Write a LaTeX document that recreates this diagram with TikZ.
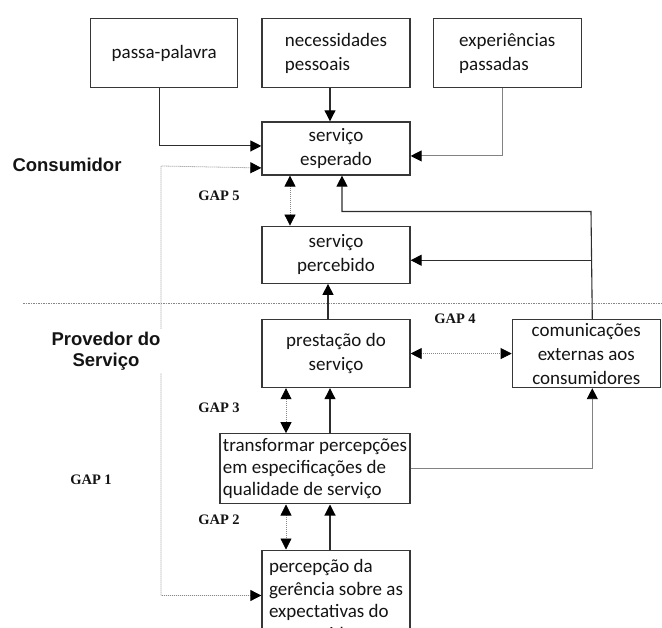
\documentclass[tikz,border=0pt]{standalone}
\usepackage{fontspec}
\setmainfont{Carlito}
\newfontfamily\sidefont{Liberation Sans}
\newfontfamily\gapfont{Liberation Serif}
\usetikzlibrary{arrows.meta,positioning}
\definecolor{boxbdr}{RGB}{55,55,55}
\definecolor{hdrclr}{RGB}{20,20,20}
\definecolor{arrowclr}{RGB}{45,45,45}
\definecolor{lightclr}{RGB}{130,130,130}
\definecolor{dotclr}{RGB}{135,135,135}
\tikzset{
  mblk/.style={rectangle,draw=boxbdr,line width=1.3pt,fill=white,
    minimum width=148pt,minimum height=69pt,inner sep=1pt,
    font=\fontsize{19}{24}\selectfont,align=center,text=hdrclr},
  lblk/.style={mblk,align=left},
  arr/.style={-{Triangle[length=11pt,width=11pt,color=black]},line width=1.1pt,color=arrowclr},
  larr/.style={arr,color=lightclr,line width=0.9pt},
  darr/.style={{Triangle[length=11pt,width=11pt,color=black]}-{Triangle[length=11pt,width=11pt,color=black]},
    line width=0.8pt,color=dotclr,dash pattern=on 1pt off 1pt},
  divline/.style={line width=0.8pt,color=dotclr,dash pattern=on 1.5pt off 1pt},
  lbl/.style={font=\gapfont\bfseries\fontsize{14.5}{16}\selectfont,text=hdrclr},
  side/.style={font=\sidefont\bfseries\fontsize{18.5}{21.5}\selectfont,align=center,text=hdrclr},
}
\begin{document}
\begin{tikzpicture}[x=1pt,y=-1pt,node distance=33pt and 22pt]
  \clip (0,0) rectangle (662,628);

  \node[lblk,anchor=north] (ness) at (336,18) {necessidades\\pessoais};
  \node[mblk,minimum width=147pt,left=23pt of ness] (boca) {passa-palavra};
  \node[lblk,right=22pt of ness] (exper) {experiências\\passadas};
  \node[mblk,minimum height=53pt,below=33pt of ness] (esp) {serviço\\esperado};
  \node[mblk,minimum height=57pt,below=50pt of esp] (perc) {serviço\\percebido};
  \node[mblk,minimum height=68pt,below=35pt of perc] (prest) {prestação do\\serviço};
  \node[mblk,minimum height=68pt,right=101pt of prest] (comext) {comunicações\\externas aos\\consumidores};
  \node[lblk,minimum width=190pt,minimum height=70pt,inner xsep=2pt,font=\fontsize{19}{22}\selectfont,
    below=45pt of prest.south east,anchor=north east] (transf)
    {transformar percepções\\em especificações de\\qualidade de serviço};
  \node[lblk,minimum height=100pt,font=\fontsize{19}{22.5}\selectfont,
    below=45pt of transf.south east,anchor=north east] (ger)
    {percepção da\\gerência sobre as\\expectativas do\\consumidor};

  \coordinate (fb) at (161,166);
  \coordinate (cup) at ([xshift=6pt]comext.north);
  \coordinate (turn) at (591,211.5);
  \coordinate (pin) at ([yshift=-5.5pt]perc.east);
  \coordinate (dl) at (23,303);
  \coordinate (dr) at (662,303);

  % consumer side
  \draw[arr] ([xshift=-5pt]boca.south) |- ([yshift=2.5pt]esp.west);
  \draw[arr] ([xshift=-6pt]ness.south) -- ([xshift=-6pt]esp.north);
  \draw[larr] ([xshift=-5pt]exper.south) |- ([yshift=-7.5pt]esp.east);
  \draw[darr] ([xshift=-46pt]esp.south) -- ([xshift=-46pt]perc.north);
  \draw[arr] (cup) -- (turn) -| ([xshift=6pt]esp.south);
  \draw[arr] (cup |- pin) -- (pin);

  \draw[divline] (dl) -- (dr);

  % provider side
  \draw[arr] ([xshift=-8pt]prest.north) -- ([xshift=-8pt]perc.south);
  \draw[darr] (prest.east) -- (comext.west);
  \draw[darr] ([xshift=-50pt]prest.south) -- ([xshift=-29pt]transf.north);
  \draw[arr] ([xshift=15pt]transf.north) -- ([xshift=-6pt]prest.south);
  \draw[darr] ([xshift=-29pt]transf.south) -- ([xshift=-50pt]ger.north);
  \draw[arr] ([xshift=-6pt]ger.north) -- ([xshift=15pt]transf.south);
  \draw[larr] (transf.east) -| ([xshift=6pt]comext.south);
  \draw[darr] ([yshift=-19.5pt]esp.west) -- (fb) |- ([yshift=-46pt]ger.north west);

  \node[side] (cons) at (67,165) {Consumidor};
  \node[side,fill=white,inner sep=3pt] (prov) at (106,351) {Provedor do\\Serviço};
  \node[lbl] (gap5) at (219,196) {GAP 5};
  \node[lbl] (gap4) at (455,319) {GAP 4};
  \node[lbl] (gap3) at (219,408) {GAP 3};
  \node[lbl] (gap2) at (219,520) {GAP 2};
  \node[lbl] (gap1) at (91,480) {GAP 1};

\end{tikzpicture}
\end{document}
